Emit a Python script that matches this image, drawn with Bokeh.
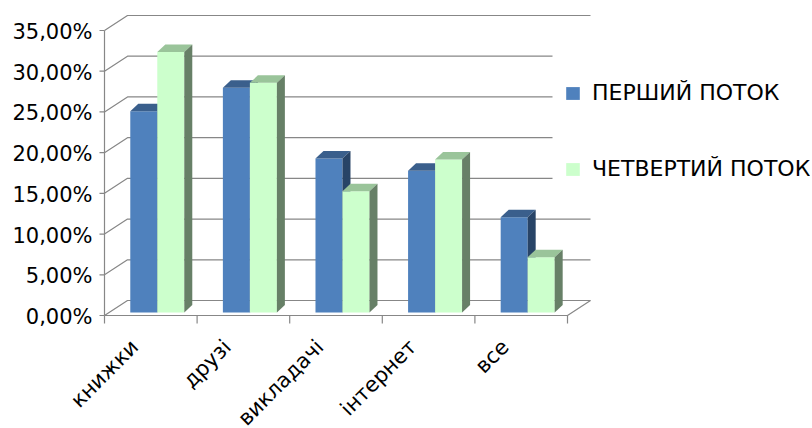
import math
from bokeh.plotting import figure
from bokeh.models import Range1d, Legend, LegendItem, BoxAnnotation
from bokeh.core.properties import value
from bokeh.embed import file_html
from bokeh.resources import INLINE

# ---------------- data ----------------
categories = ["книжки", "друзі", "викладачі", "інтернет", "все"]
series_names = ["ПЕРШИЙ ПОТОК", "ЧЕТВЕРТИЙ ПОТОК"]
first_stream = [24.7, 27.6, 18.9, 17.4, 11.7]     # %
fourth_stream = [32.0, 28.2, 14.9, 18.8, 6.8]     # %
y_ticks = [0, 5, 10, 15, 20, 25, 30, 35]
y_tick_labels = ["0,00%", "5,00%", "10,00%", "15,00%", "20,00%", "25,00%", "30,00%", "35,00%"]

# ---------------- style / layout ----------------
FONT = "DejaVu Sans"
GRID = "#878787"
BLUE = ("#4F81BD", "#3A5F8C", "#284467")     # front, top, side
GREEN = ("#CCFFCC", "#9AC49A", "#678067")

W, H = 810, 426
AXIS_PX = 104               # pixel column of the value axis
ZERO_PX = 315               # pixel row of the 0 % front line
PX_X = 92.6                 # px per category
PX_Y = 8.143                # px per percent

x_lo = -AXIS_PX / PX_X
x_hi = (W - AXIS_PX) / PX_X
y_hi = ZERO_PX / PX_Y
y_lo = (ZERO_PX - H) / PX_Y

WALL_DX = 23 / PX_X
WALL_DY = 15 / PX_Y
BAR_X0 = 0.07
BAR_Y0 = 3 / PX_Y
BAR_W = 27 / PX_X
BAR_DX = 8 / PX_X
BAR_DY = 7.5 / PX_Y
XTICK_LEN = 8 / PX_Y
YTICK_LEN = 5 / PX_X
YLABEL_DX = -12 / PX_X
YLABEL_DY = -1.5 / PX_Y
LABEL_DX = -16 / PX_X
LABEL_Y = -28 / PX_Y
n = len(categories)

p = figure(width=W, height=H, x_range=Range1d(x_lo, x_hi), y_range=Range1d(y_lo, y_hi),
           output_backend="svg", toolbar_location=None,
           x_axis_location=None, y_axis_location=None,
           min_border_left=0, min_border_right=0, min_border_top=0, min_border_bottom=0)
p.outline_line_color = None
p.xgrid.grid_line_color = None
p.ygrid.grid_line_color = None
p.background_fill_color = "white"
p.border_fill_color = "white"

# walls / gridlines
gx, gy = [], []
for v in y_ticks:
    gx.append([0, WALL_DX, n + WALL_DX])
    gy.append([v, v + WALL_DY, v + WALL_DY])
gx.append([0, n, n + WALL_DX])
gy.append([0, 0, WALL_DY])
gx.append([0, 0])
gy.append([y_ticks[0], y_ticks[-1]])
p.multi_line(gx, gy, line_color=GRID, line_width=1.2)

# value-axis ticks and category boundary ticks
bounds_x = list(range(n + 1))
p.segment(x0=bounds_x, y0=[0] * (n + 1), x1=bounds_x, y1=[-XTICK_LEN] * (n + 1),
          line_color=GRID, line_width=1.2)
p.segment(x0=[-YTICK_LEN] * len(y_ticks), y0=y_ticks, x1=[0] * len(y_ticks), y1=y_ticks,
          line_color=GRID, line_width=1.2)

# 3D bars
def bars(values, offset, colors):
    x0 = [i + 0.5 + BAR_X0 + offset for i in range(n)]
    x1 = [a + BAR_W for a in x0]
    top = [BAR_Y0 + v for v in values]
    front = p.quad(left=x0, right=x1, bottom=[BAR_Y0] * n, top=top,
                   fill_color=colors[0], line_color=None)
    txs = [[a, b, b + BAR_DX, a + BAR_DX] for a, b in zip(x0, x1)]
    tys = [[t, t, t + BAR_DY, t + BAR_DY] for t in top]
    p.patches(txs, tys, fill_color=colors[1], line_color=None)
    sxs = [[b, b + BAR_DX, b + BAR_DX, b] for b in x1]
    sys_ = [[BAR_Y0, BAR_Y0 + BAR_DY, t + BAR_DY, t] for t in top]
    p.patches(sxs, sys_, fill_color=colors[2], line_color=None)
    return front

r1 = bars(first_stream, -BAR_W, BLUE)
r2 = bars(fourth_stream, 0, GREEN)

# value-axis tick labels
p.text(x=[YLABEL_DX] * len(y_ticks), y=[v + YLABEL_DY for v in y_ticks], text=y_tick_labels,
       text_align="right", text_baseline="middle",
       text_font=value(FONT), text_font_size="21px", text_color="black")

# category labels (rotated 45°)
p.text(x=[i + 0.5 + LABEL_DX for i in range(n)], y=[LABEL_Y] * n, text=categories,
       angle=math.pi / 4, text_align="right", text_baseline="alphabetic",
       text_font=value(FONT), text_font_size="21px", text_color="black")

# legend with white cover behind it
cover = BoxAnnotation(left=(552 - AXIS_PX) / PX_X, bottom=(ZERO_PX - 205) / PX_Y,
                      top=(ZERO_PX - 45) / PX_Y,
                      fill_color="white", fill_alpha=1, line_color=None)
p.add_layout(cover)
legend = Legend(items=[LegendItem(label=series_names[0], renderers=[r1]),
                       LegendItem(label=series_names[1], renderers=[r2])],
                location=(564, H - 181), padding=0, margin=0, spacing=51,
                glyph_width=17, glyph_height=16, label_height=16, label_standoff=11,
                label_text_font=FONT, label_text_font_size="22px", label_text_color="black",
                background_fill_alpha=0, border_line_color=None)
p.add_layout(legend)

open("out.html", "w").write(file_html(p, INLINE))
